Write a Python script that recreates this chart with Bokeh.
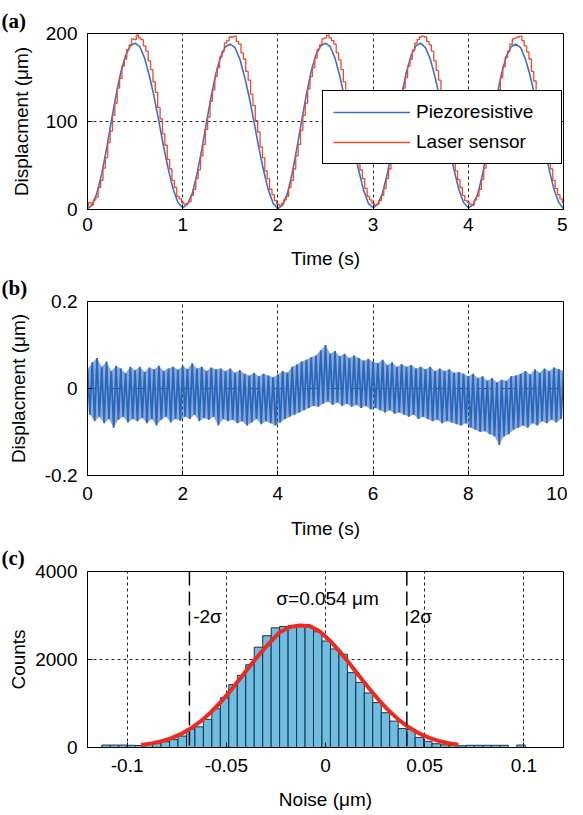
import numpy as np
from bokeh.plotting import figure
from bokeh.layouts import column
from bokeh.models import FixedTicker, Legend, LegendItem, Span, Label
from bokeh.embed import file_html
from bokeh.resources import INLINE

FONT = "Liberation Sans"

# ---------------- (a) displacement, 0..5 s ----------------
a_dt_blue = 0.05
a_blue = [
    1, 5, 19, 41, 69, 100, 130, 156, 175, 186, 189, 185, 172, 152, 128, 100, 71, 45, 23, 8,
    2, 6, 18, 40, 68, 99, 129, 155, 174, 185, 188, 184, 171, 151, 127, 99, 70, 44, 22, 7,
    1, 5, 18, 41, 70, 101, 131, 157, 176, 186, 189, 185, 172, 152, 127, 99, 70, 44, 22, 7,
    2, 6, 19, 41, 69, 100, 130, 156, 175, 186, 189, 184, 171, 151, 127, 100, 71, 45, 23, 8,
    2, 5, 18, 40, 68, 99, 129, 155, 174, 185, 188, 184, 171, 152, 128, 100, 71, 45, 23, 8,
    1]
a_dt_red = 0.025
a_red = [
    4, 8, 5, 11, 14, 25, 33, 47, 59, 76, 89, 107, 121, 138, 149, 163, 171, 182, 187, 194,
    193, 198, 195, 193, 186, 180, 169, 159, 145, 133, 116, 103, 86, 73, 57, 46, 33, 25, 15, 12,
    8, 6, 7, 9, 16, 23, 35, 45, 61, 74, 91, 105, 123, 136, 151, 161, 173, 180, 189, 192,
    196, 196, 197, 191, 188, 178, 171, 157, 147, 131, 118, 101, 88, 71, 59, 44, 35, 23, 17, 10,
    6, 4, 7, 11, 15, 25, 33, 46, 61, 74, 90, 107, 121, 137, 151, 161, 172, 182, 187, 194,
    195, 198, 195, 192, 188, 178, 170, 159, 145, 132, 118, 101, 87, 73, 57, 45, 35, 24, 15, 11,
    7, 5, 6, 10, 16, 24, 35, 46, 59, 75, 91, 105, 122, 138, 150, 163, 171, 181, 189, 193,
    196, 197, 196, 191, 187, 180, 169, 158, 147, 131, 117, 103, 86, 72, 59, 44, 34, 25, 16, 10,
    8, 6, 5, 11, 15, 23, 34, 47, 60, 76, 89, 106, 123, 136, 150, 162, 173, 180, 188, 194,
    195, 196, 197, 192, 186, 179, 171, 157, 146, 133, 116, 102, 88, 71, 58, 46, 33, 24, 17, 12,
    8]
a_xticks = [0, 1, 2, 3, 4, 5]
a_yticks = [0, 100, 200]

# ---------------- (b) noise displacement, 0..10 s ----------------
b_dt = 0.05
b_peaks = [
    0.045, 0.06, 0.07, 0.05, 0.062, 0.04, 0.052, 0.046, 0.035, 0.05,
    0.042, 0.05, 0.038, 0.048, 0.044, 0.052, 0.04, 0.046, 0.05, 0.043,
    0.052, 0.045, 0.058, 0.046, 0.05, 0.04, 0.048, 0.044, 0.046, 0.04,
    0.046, 0.036, 0.042, 0.034, 0.03, 0.036, 0.028, 0.034, 0.03, 0.026,
    0.032, 0.04, 0.036, 0.05, 0.055, 0.062, 0.066, 0.072, 0.076, 0.088,
    0.1, 0.08, 0.086, 0.074, 0.08, 0.07, 0.076, 0.07, 0.064, 0.068,
    0.062, 0.058, 0.066, 0.054, 0.06, 0.05, 0.056, 0.05, 0.054, 0.046,
    0.05, 0.044, 0.05, 0.04, 0.046, 0.04, 0.044, 0.036, 0.038, 0.034,
    0.028, 0.034, 0.024, 0.028, 0.018, 0.024, 0.014, 0.02, 0.018, 0.028,
    0.03, 0.034, 0.04, 0.032, 0.044, 0.036, 0.046, 0.04, 0.048, 0.044,
    0.04]
b_troughs = [
    -0.06, -0.075, -0.065, -0.08, -0.07, -0.09, -0.072, -0.065, -0.078, -0.07,
    -0.075, -0.068, -0.08, -0.07, -0.085, -0.072, -0.065, -0.078, -0.07, -0.074,
    -0.065, -0.07, -0.06, -0.075, -0.068, -0.072, -0.065, -0.085, -0.07, -0.075,
    -0.072, -0.08, -0.075, -0.085, -0.078, -0.07, -0.082, -0.075, -0.08, -0.085,
    -0.078, -0.07, -0.065, -0.06, -0.055, -0.05, -0.045, -0.04, -0.042, -0.035,
    -0.03, -0.038, -0.032, -0.04, -0.035, -0.042, -0.038, -0.045, -0.04, -0.048,
    -0.045, -0.05, -0.055, -0.05, -0.058, -0.055, -0.06, -0.065, -0.06, -0.07,
    -0.065, -0.07, -0.075, -0.072, -0.08, -0.075, -0.078, -0.082, -0.085, -0.08,
    -0.09, -0.095, -0.1, -0.098, -0.105, -0.11, -0.13, -0.11, -0.105, -0.095,
    -0.09, -0.085, -0.09, -0.08, -0.085, -0.075, -0.08, -0.072, -0.078, -0.07]
b_xticks = [0, 2, 4, 6, 8, 10]
b_yticks = [-0.2, 0, 0.2]

# ---------------- (c) noise histogram ----------------
c_bin_start = -0.1128
c_bin_width = 0.00427
c_counts = [
    55, 55, 55, 50, 45, 70, 95, 130, 180, 260,
    420, 470, 640, 880, 1130, 1430, 1640, 1880, 2280, 2540,
    2720, 2750, 2770, 2770, 2750, 2630, 2420, 2240, 2120, 1700,
    1480, 1240, 1020, 790, 600, 430, 410, 230, 140, 85,
    60, 45, 40, 50, 50, 50, 50, 50, 0, 55]
c_fit_x = [-0.093, -0.088, -0.083, -0.078, -0.073, -0.068, -0.063, -0.058, -0.053,
           -0.048, -0.043, -0.038, -0.033, -0.028, -0.023, -0.018, -0.013, -0.008,
           -0.003, 0.002, 0.007, 0.012, 0.017, 0.022, 0.027, 0.032, 0.037, 0.042,
           0.047, 0.052, 0.057, 0.062, 0.067]
c_fit_y = [55, 89, 138, 207, 303, 430, 591, 790, 1023,
           1286, 1569, 1858, 2135, 2390, 2620, 2740, 2775, 2760,
           2640, 2440, 2190, 1915, 1627, 1341, 1073, 833, 628, 459,
           325, 224, 150, 97, 61]
c_sigma_lines = [-0.0686, 0.041]
c_xticks = [-0.1, -0.05, 0, 0.05, 0.1]
c_yticks = [0, 2000, 4000]

LEFT = 87


def base_fig(xr, yr, top, bottom, frame_h, ylab_standoff, tag, tag_standoff,
             xtick_standoff=11, xlab_standoff=16):
    p = figure(frame_width=476, frame_height=frame_h, x_range=xr, y_range=yr,
               min_border_left=LEFT, min_border_right=4,
               min_border_top=top, min_border_bottom=bottom,
               output_backend="svg", toolbar_location=None)
    p.outline_line_color = "black"
    p.outline_line_width = 1
    p.outline_line_alpha = 1
    for ax in (p.xaxis[0], p.yaxis[0]):
        ax.axis_line_color = "black"
        ax.major_tick_line_color = "black"
        ax.major_tick_in = 5
        ax.major_tick_out = 0
        ax.minor_tick_line_color = None
        ax.major_label_text_font = FONT
        ax.major_label_text_font_size = "19px"
        ax.major_label_text_color = "black"
        ax.axis_label_text_font = FONT
        ax.axis_label_text_font_size = "19px"
        ax.axis_label_text_font_style = "normal"
        ax.axis_label_text_color = "black"
    p.xaxis.major_label_standoff = xtick_standoff
    p.xaxis.axis_label_standoff = xlab_standoff
    p.yaxis.major_label_standoff = 10
    p.yaxis.axis_label_standoff = ylab_standoff
    for g in (p.xgrid[0], p.ygrid[0]):
        g.grid_line_color = "black"
        g.grid_line_dash = "3 3"
        g.grid_line_width = 1
        g.grid_line_alpha = 0.85
    p.title.text = tag
    p.title.align = "left"
    p.title.offset = -LEFT + 1
    p.title.standoff = tag_standoff
    p.title.text_font = "Liberation Serif"
    p.title.text_font_style = "bold"
    p.title.text_font_size = "21px"
    p.title.text_color = "black"
    return p


# ----- panel a -----
pa = base_fig((0, 5), (0, 200), 33, 40, 176, 11, "(a)", 2,
              xtick_standoff=8, xlab_standoff=14)
pa.xaxis.ticker = FixedTicker(ticks=a_xticks)
pa.yaxis.ticker = FixedTicker(ticks=a_yticks)
pa.xaxis.axis_label = "Time (s)"
pa.yaxis.axis_label = "Displacment (\u03bcm)"
ta = np.arange(len(a_blue)) * a_dt_blue
tr = np.arange(len(a_red)) * a_dt_red
rb = pa.line(ta, a_blue, line_color="#3E6FC8", line_width=1.6)
rr = pa.step(tr, a_red, mode="center", line_color="#EE4A2A", line_width=1.3)
leg = Legend(items=[LegendItem(label="Piezoresistive", renderers=[rb]),
                    LegendItem(label="Laser sensor", renderers=[rr])],
             location=(235, 45))
leg.border_line_color = "black"
leg.border_line_width = 1
leg.border_line_alpha = 1
leg.background_fill_alpha = 1
leg.label_text_font = FONT
leg.label_text_font_size = "19px"
leg.label_text_color = "black"
leg.glyph_width = 77
leg.glyph_height = 22
leg.label_height = 22
leg.label_width = 135
leg.label_standoff = 6
leg.padding = 10
leg.spacing = 8
leg.margin = 0
pa.add_layout(leg)

# ----- panel b -----
pb = base_fig((0, 10), (-0.2, 0.2), 28, 40, 174, 13, "(b)", 4,
              xtick_standoff=11, xlab_standoff=15)
pb.xaxis.ticker = FixedTicker(ticks=b_xticks)
pb.yaxis.ticker = FixedTicker(ticks=b_yticks)
pb.yaxis.major_label_overrides = {-0.2: "-0.2", 0: "0", 0.2: "0.2"}
pb.xaxis.axis_label = "Time (s)"
pb.yaxis.axis_label = "Displacment (\u03bcm)"
t_peaks = np.arange(len(b_peaks)) * 2 * b_dt
t_troughs = np.arange(len(b_troughs)) * 2 * b_dt + b_dt
# envelope band (peaks forward, troughs backward)
pb.patch(list(t_peaks) + list(t_troughs[::-1]), list(b_peaks) + list(b_troughs[::-1]),
         fill_color="#2A66BC", fill_alpha=0.55, line_color=None)
b_vals = []
for k in range(len(b_troughs)):
    b_vals += [b_peaks[k], b_troughs[k]]
b_vals.append(b_peaks[-1])
b_t = np.arange(len(b_vals)) * b_dt
pb.line(b_t, b_vals, line_color="#2A66BC", line_width=1.8)

# ----- panel c -----
pc = base_fig((-0.12, 0.12), (0, 4000), 28, 40, 176, 3, "(c)", 4,
              xtick_standoff=11, xlab_standoff=14)
pc.xaxis.ticker = FixedTicker(ticks=c_xticks)
pc.yaxis.ticker = FixedTicker(ticks=c_yticks)
pc.xaxis.major_label_overrides = {-0.1: "-0.1", -0.05: "-0.05", 0: "0", 0.05: "0.05", 0.1: "0.1"}
pc.xaxis.axis_label = "Noise (\u03bcm)"
pc.yaxis.axis_label = "Counts"
lefts = [c_bin_start + i * c_bin_width for i in range(len(c_counts))]
rights = [l + c_bin_width for l in lefts]
pc.quad(left=lefts, right=rights, bottom=0, top=c_counts,
        fill_color="#6DBEE2", line_color="#1E2F3E", line_width=1)
pc.line(c_fit_x, c_fit_y, line_color="#EE2A1E", line_width=4, line_join="round")
for loc in c_sigma_lines:
    pc.add_layout(Span(location=loc, dimension="height", line_color="black",
                       line_width=1.5, line_dash="14 6"))
txt = dict(text_font=FONT, text_font_size="19px", text_color="black",
           text_baseline="middle", text_align="left")
pc.add_layout(Label(x=-0.0248, y=3390, text="\u03c3=0.054 \u03bcm", **txt))
pc.add_layout(Label(x=-0.0667, y=2980, text="-2\u03c3", **txt))
pc.add_layout(Label(x=0.0425, y=2980, text="2\u03c3", **txt))

layout = column(pa, pb, pc, spacing=0)
open("out.html", "w").write(file_html(layout, INLINE))
